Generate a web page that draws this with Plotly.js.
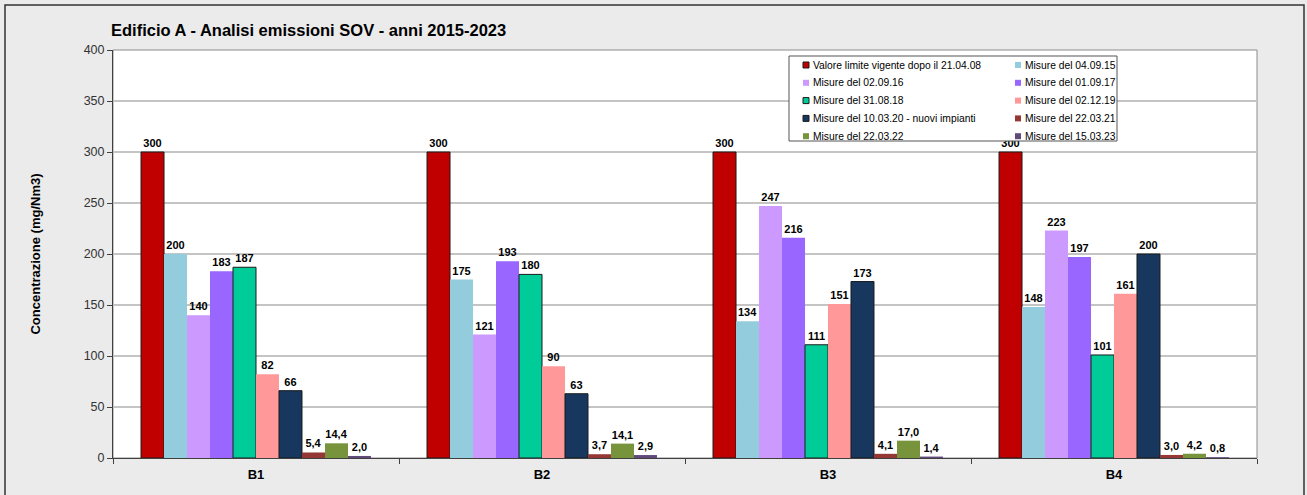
<!DOCTYPE html>
<html>
<head>
<meta charset="utf-8">
<script src="https://cdn.plot.ly/plotly-3.0.1.min.js"></script>
<style>html,body{margin:0;padding:0;background:#ebebeb;}#chart{width:1307px;height:495px;}</style>
</head>
<body>
<div id="chart"></div>
<script>
// ---- data ----
const categories = ["B1", "B2", "B3", "B4"];
const seriesNames = [
  "Valore limite vigente dopo il 21.04.08",
  "Misure del 04.09.15",
  "Misure del 02.09.16",
  "Misure del 01.09.17",
  "Misure del 31.08.18",
  "Misure del 02.12.19",
  "Misure del 10.03.20 - nuovi impianti",
  "Misure del 22.03.21",
  "Misure del 22.03.22",
  "Misure del 15.03.23"
];
const limite   = [300, 300, 300, 300];
const m040915  = [200, 175, 134, 148];
const m020916  = [140, 121, 247, 223];
const m010917  = [183, 193, 216, 197];
const m310818  = [187, 180, 111, 101];
const m021219  = [82, 90, 151, 161];
const m100320  = [66, 63, 173, 200];
const m220321  = [5.4, 3.7, 4.1, 3.0];
const m220322  = [14.4, 14.1, 17.0, 4.2];
const m150323  = [2.0, 2.9, 1.4, 0.8];
const yTicks   = [0, 50, 100, 150, 200, 250, 300, 350, 400];

const seriesValues = [limite, m040915, m020916, m010917, m310818, m021219, m100320, m220321, m220322, m150323];
const decimals = [0, 0, 0, 0, 0, 0, 0, 1, 1, 1];

// ---- styles ----
const colors = ["#c00000", "#93cddd", "#cc99ff", "#9966ff", "#00cc99", "#ff9999", "#17375e", "#953735", "#77933c", "#604a7b"];
const outline = [true, false, false, false, true, false, true, false, false, false];
const FONT = 'Arial, Liberation Sans, sans-serif';

const W = 1307, H = 495;
const M = {l: 113, r: 50, t: 50, b: 37};
const PW = W - M.l - M.r, PH = H - M.t - M.b;
const px = x => (x - M.l) / PW;
const py = y => 1 - (y - M.t) / PH;

function fmt(v, d) {
  return d === 0 ? String(Math.round(v)) : v.toFixed(d).replace('.', ',');
}

const traces = seriesValues.map((vals, i) => ({
  type: 'bar',
  name: seriesNames[i],
  x: categories,
  y: vals,
  text: vals.map(v => fmt(v, decimals[i])),
  textposition: 'outside',
  constraintext: 'none',
  cliponaxis: false,
  textfont: {family: FONT, size: 11, color: '#000', weight: 'bold'},
  marker: {color: colors[i], line: {color: outline[i] ? '#1a1a1a' : colors[i], width: outline[i] ? 1 : 0}},
  showlegend: false,
  hoverinfo: 'x+y+name'
}));

// ---- frames and custom legend ----
const shapes = [];
const annotations = [];
shapes.push({type: 'rect', xref: 'paper', yref: 'paper', x0: px(5), x1: px(1304), y0: py(505), y1: py(5),
  line: {color: '#333', width: 1.5}, fillcolor: 'rgba(0,0,0,0)', layer: 'below'});
shapes.push({type: 'rect', xref: 'paper', yref: 'paper', x0: 0, x1: 1, y0: 0, y1: 1,
  line: {color: '#8c8c8c', width: 1}, fillcolor: 'rgba(0,0,0,0)', layer: 'below'});
const LB = {x0: 789, x1: 1117, y0: 56, y1: 141};
shapes.push({type: 'rect', xref: 'paper', yref: 'paper', x0: px(LB.x0), x1: px(LB.x1), y0: py(LB.y1), y1: py(LB.y0),
  line: {color: '#555', width: 1}, fillcolor: '#ffffff', layer: 'above'});
const colX = [803, 1015];
const rowY0 = 65, rowStep = 17.8;
seriesNames.forEach((name, i) => {
  const r = Math.floor(i / 2), c = i % 2;
  const cy = rowY0 + r * rowStep;
  const sx = colX[c];
  shapes.push({type: 'rect', xref: 'paper', yref: 'paper', x0: px(sx), x1: px(sx + 6), y0: py(cy + 3), y1: py(cy - 3),
    fillcolor: colors[i], line: {color: outline[i] ? '#1a1a1a' : colors[i], width: outline[i] ? 1 : 0}, layer: 'above'});
  annotations.push({xref: 'paper', yref: 'paper', x: px(sx + 8), y: py(cy), xanchor: 'left', yanchor: 'middle',
    text: name, showarrow: false, font: {family: FONT, size: 10.3, color: '#000'}});
});

const layout = {
  width: W, height: H,
  margin: M,
  paper_bgcolor: '#ebebeb',
  plot_bgcolor: '#ffffff',
  barmode: 'group',
  bargap: 0.196,
  bargroupgap: 0,
  title: {
    text: 'Edificio A - Analisi emissioni SOV - anni 2015-2023',
    x: 111 / W, xanchor: 'left', y: 1 - 30 / H, yanchor: 'middle',
    font: {family: FONT, size: 16.5, color: '#000', weight: 'bold'}
  },
  xaxis: {
    type: 'category',
    tickson: 'boundaries',
    ticks: 'outside', ticklen: 5, tickcolor: '#404040',
    ticklabelstandoff: 4,
    showline: true, linecolor: '#404040', linewidth: 1,
    showgrid: false,
    tickfont: {family: FONT, size: 13, color: '#000', weight: 'bold'}
  },
  yaxis: {
    range: [0, 400],
    tickvals: yTicks,
    ticktext: yTicks.map(String),
    ticks: 'outside', ticklen: 5, tickcolor: '#404040',
    showline: true, linecolor: '#404040', linewidth: 1,
    showgrid: true, gridcolor: '#c4c4c4', gridwidth: 1.5,
    zeroline: false,
    tickfont: {family: FONT, size: 12.5, color: '#333'},
    title: {text: 'Concentrazione (mg/Nm3)', standoff: 40,
      font: {family: FONT, size: 13, color: '#000', weight: 'bold'}}
  },
  shapes: shapes,
  annotations: annotations,
  showlegend: false
};

Plotly.newPlot('chart', traces, layout, {displayModeBar: false, staticPlot: true});
</script>
</body>
</html>
